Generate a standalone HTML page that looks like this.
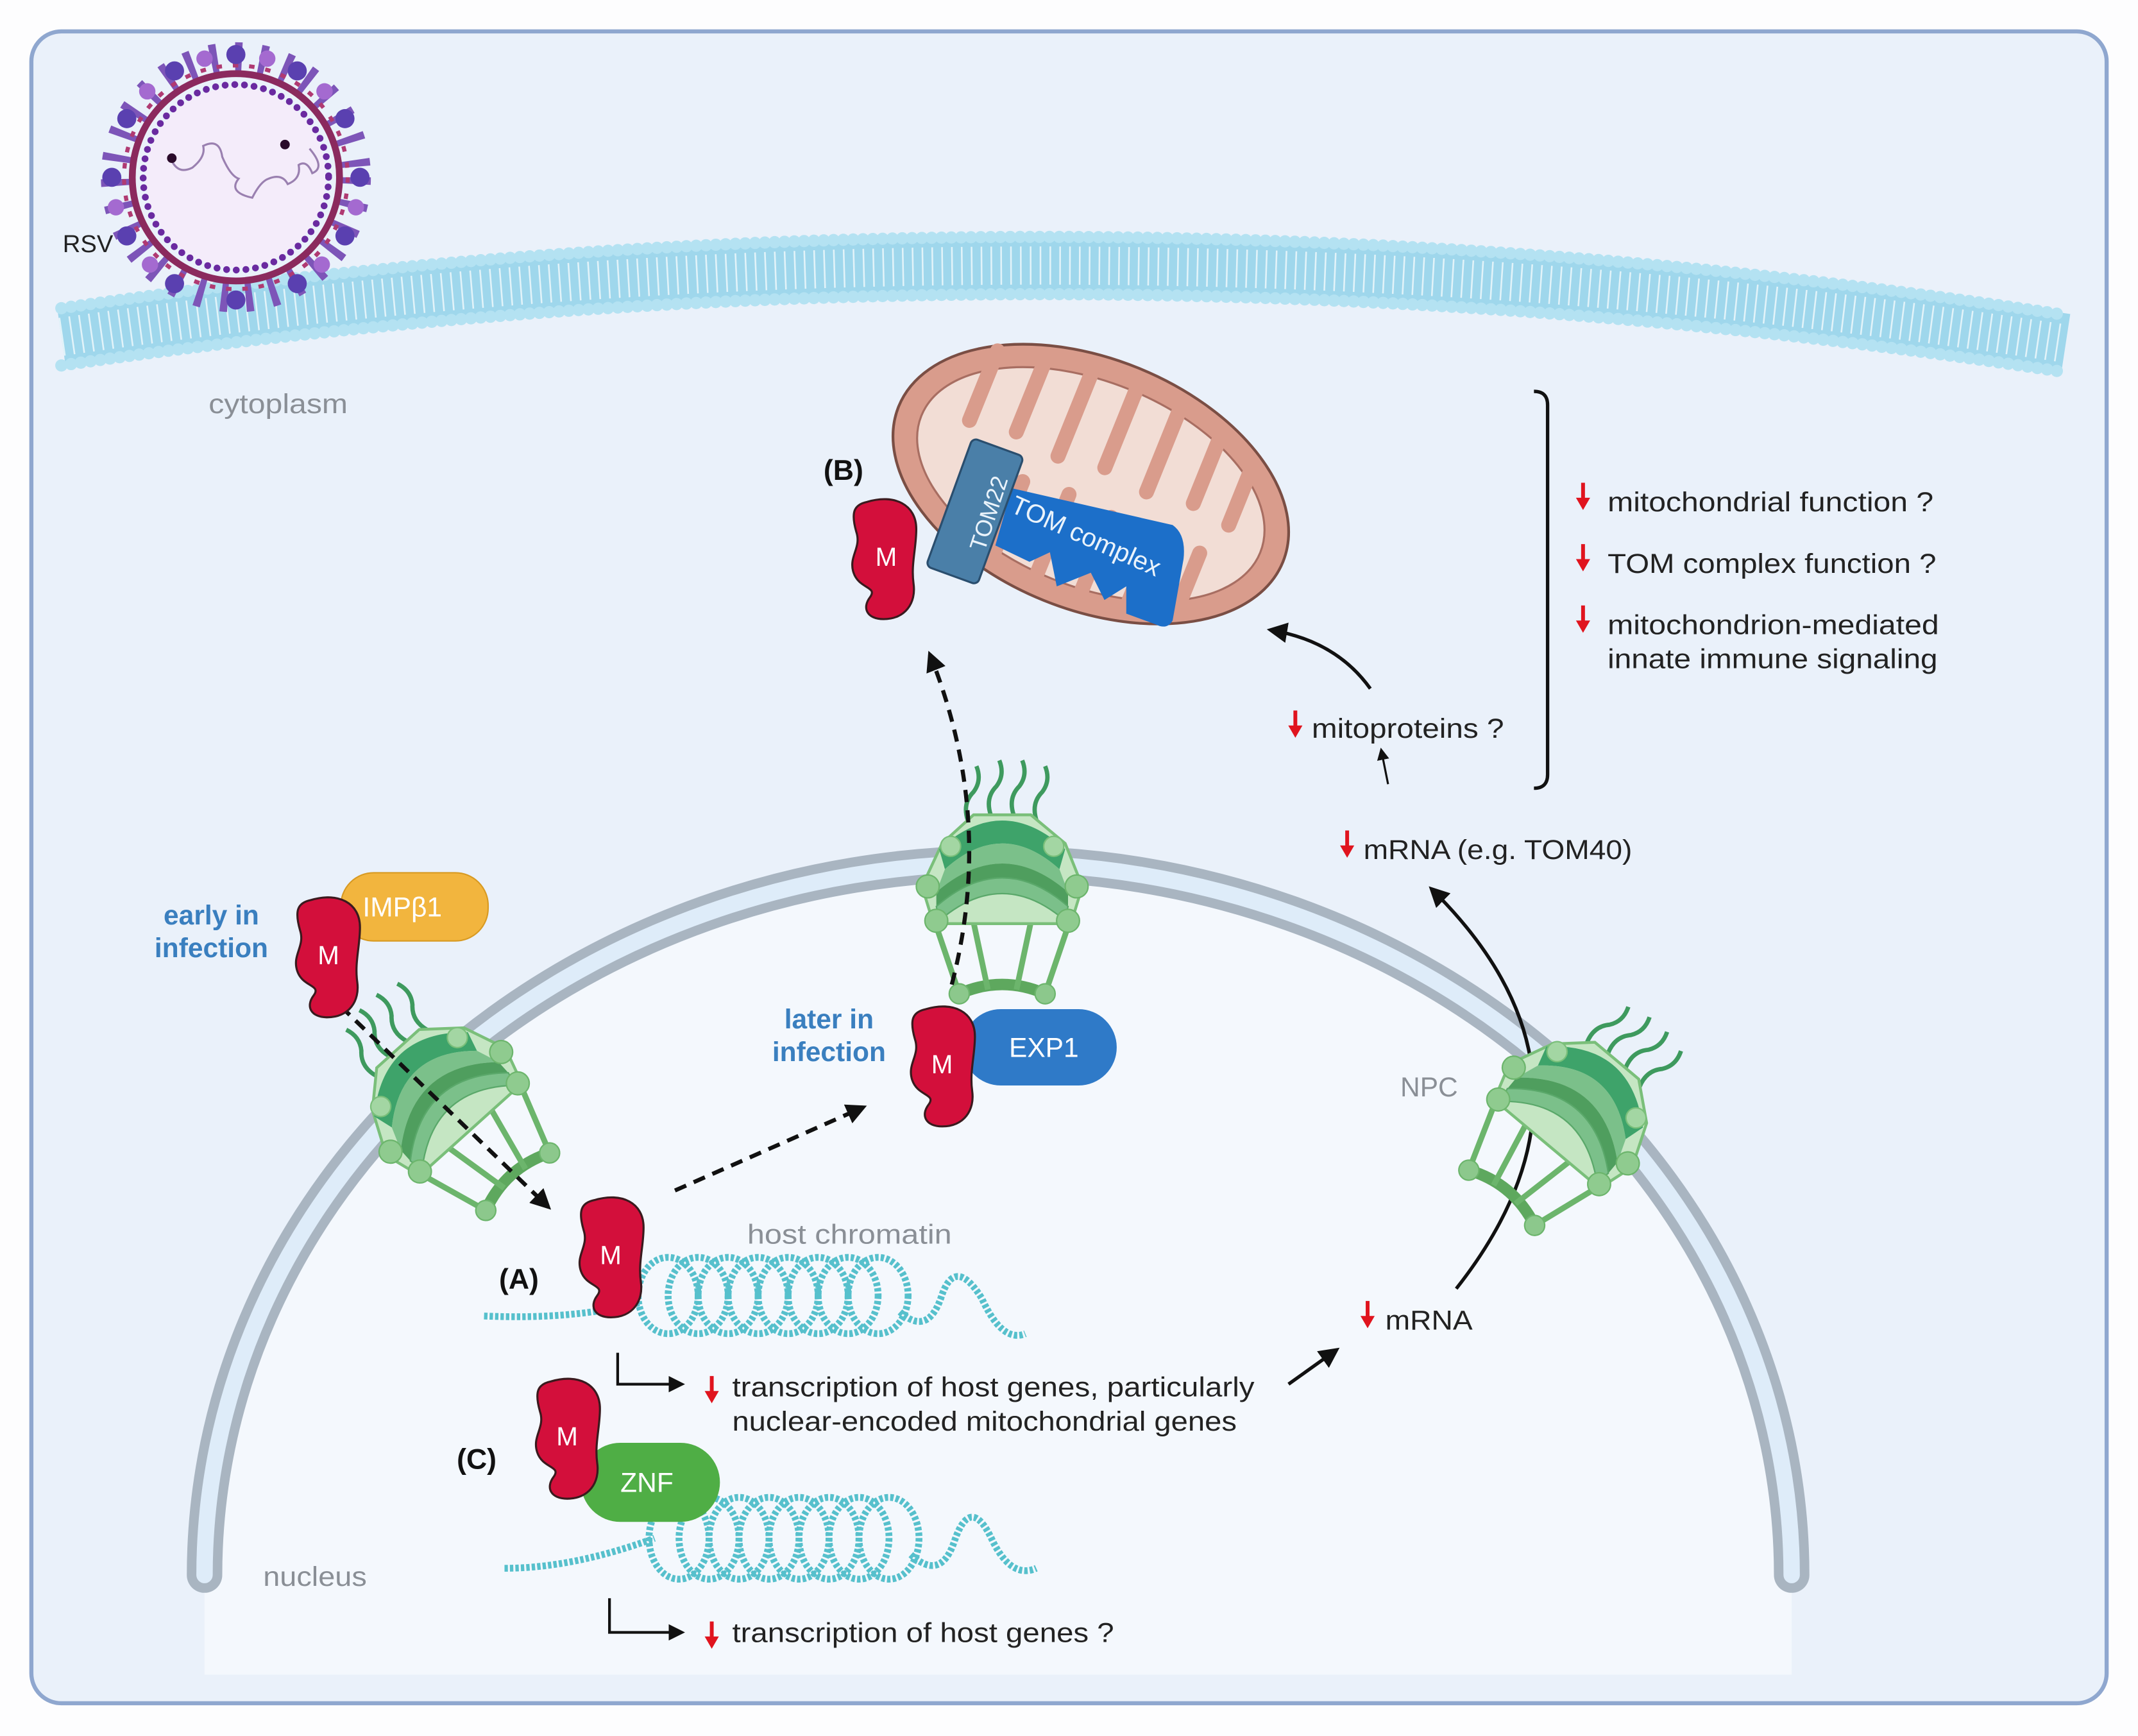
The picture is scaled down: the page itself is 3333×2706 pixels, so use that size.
<!DOCTYPE html>
<html><head><meta charset="utf-8"><style>
html,body{margin:0;padding:0;background:#fff}
svg{display:block}
text{font-family:"Liberation Sans",sans-serif}
</style></head><body>
<svg width="3333" height="2706" viewBox="0 0 1568 1273" preserveAspectRatio="none" xmlns="http://www.w3.org/2000/svg">
<defs>
<marker id="ah" viewBox="0 0 10 10" refX="8" refY="5" markerWidth="5" markerHeight="5" orient="auto"><path d="M0,0 L10,5 L0,10 z" fill="#111"/></marker>
<marker id="ahs" viewBox="0 0 10 10" refX="8" refY="5" markerWidth="6" markerHeight="6" orient="auto"><path d="M0,0 L10,5 L0,10 z" fill="#111"/></marker>
<g id="rdown"><path d="M-1.4,-11 L1.4,-11 L1.4,0 L5.2,0 L0,9 L-5.2,0 L-1.4,0 z" fill="#e0141e"/></g>
<g id="npc">
  <path d="M-30,75 Q0,62 30,75" fill="none" stroke="#5ea85e" stroke-width="8"/>
  <path d="M-48,22 L-30,75 M48,22 L30,75 M-20,25 L-10,72 M20,25 L10,72" stroke="#6cb56c" stroke-width="4"/>
  <circle cx="-30" cy="75" r="7" fill="#8cc88c" stroke="#6cb56c"/><circle cx="30" cy="75" r="7" fill="#8cc88c" stroke="#6cb56c"/>
  <path d="M-24,-46 q-4,-12 4,-20 q6,-8 2,-18 M-8,-50 q-4,-12 4,-20 q6,-8 2,-18 M8,-50 q-4,-12 4,-20 q6,-8 2,-18 M24,-46 q-4,-12 4,-20 q6,-8 2,-18" fill="none" stroke="#3e9a5e" stroke-width="3"/>
  <path d="M-42,-30 L-20,-50 L20,-50 L44,-30 L56,0 L48,26 L-48,26 L-56,0 z" fill="#c5e6c3" stroke="#7abf7a" stroke-width="2"/>
  <path d="M-44,-26 Q0,-66 44,-26 L40,-12 Q0,-48 -40,-12 z" fill="#3ea36a"/>
  <path d="M-40,-12 Q0,-48 40,-12 L46,4 Q0,-36 -46,4 z" fill="#7bc08a"/>
  <path d="M-46,4 Q0,-36 46,4 L46,14 Q0,-26 -46,14 z" fill="#4f9e5e"/>
  <path d="M-46,14 Q0,-26 46,14 L44,24 Q0,-14 -44,24 z" fill="#7bc08a" stroke="#5aa86a"/>
  <circle cx="-52" cy="0" r="8" fill="#8fcb8f" stroke="#6cb56c"/><circle cx="52" cy="0" r="8" fill="#8fcb8f" stroke="#6cb56c"/>
  <circle cx="-46" cy="24" r="8" fill="#8fcb8f" stroke="#6cb56c"/><circle cx="46" cy="24" r="8" fill="#8fcb8f" stroke="#6cb56c"/>
  <circle cx="-36" cy="-28" r="7" fill="#a3d6a3" stroke="#7abf7a"/><circle cx="36" cy="-28" r="7" fill="#a3d6a3" stroke="#7abf7a"/>
</g>
<g id="mprot">
  <path d="M-14,-42 C6,-48 22,-40 22,-22 C22,-8 18,4 20,18 C22,32 14,44 -2,44 C-14,44 -18,36 -12,28 C-6,20 -20,22 -24,10 C-28,-2 -18,-8 -22,-20 C-26,-34 -24,-40 -14,-42 z" fill="#d30f3b" stroke="#3a1a1e" stroke-width="1.5"/>
</g>
</defs>

<rect width="1568" height="1273" fill="#fdfdfe"/>
<rect x="23" y="23" width="1522" height="1226" rx="22" fill="#eaf1fa" stroke="#8fa7cf" stroke-width="3"/>

<!-- plasma membrane -->
<path d="M45,247 Q780,140 1515,252" fill="none" stroke="#9fd7ec" stroke-width="44"/>
<path d="M45,247 Q780,140 1515,252" fill="none" stroke="#ffffff" stroke-width="28" stroke-dasharray="1.2 6" opacity="0.7"/>
<path d="M45,226 Q780,119 1515,231" fill="none" stroke="#b4e2f2" stroke-width="9" stroke-linecap="round" stroke-dasharray="0 7.2"/>
<path d="M45,268 Q780,161 1515,273" fill="none" stroke="#b4e2f2" stroke-width="9" stroke-linecap="round" stroke-dasharray="0 7.2"/>

<!-- virus -->
<g>
  <g fill="none">
    <circle cx="173" cy="130" r="88" stroke="#7d55b8" stroke-width="22" stroke-dasharray="5 13"/>
    <circle cx="173" cy="130" r="76" stroke="#8b2a5e" stroke-width="5"/>
    <circle cx="173" cy="130" r="82" stroke="#b03a72" stroke-width="3" stroke-dasharray="4 8"/>
  </g>
  <g fill="#5a40b0">
    <circle cx="173" cy="40" r="7"/><circle cx="218" cy="52" r="7"/><circle cx="128" cy="52" r="7"/><circle cx="253" cy="87" r="7"/><circle cx="93" cy="87" r="7"/><circle cx="264" cy="130" r="7"/><circle cx="82" cy="130" r="7"/><circle cx="253" cy="173" r="7"/><circle cx="93" cy="173" r="7"/><circle cx="218" cy="208" r="7"/><circle cx="128" cy="208" r="7"/><circle cx="173" cy="220" r="7"/>
    <circle cx="150" cy="43" r="6" fill="#a46ad0"/><circle cx="196" cy="43" r="6" fill="#a46ad0"/><circle cx="238" cy="67" r="6" fill="#a46ad0"/><circle cx="108" cy="67" r="6" fill="#a46ad0"/><circle cx="261" cy="152" r="6" fill="#a46ad0"/><circle cx="85" cy="152" r="6" fill="#a46ad0"/><circle cx="236" cy="194" r="6" fill="#a46ad0"/><circle cx="110" cy="194" r="6" fill="#a46ad0"/>
  </g>
  <circle cx="173" cy="130" r="66" fill="#f4ecfa"/>
  <circle cx="173" cy="130" r="68" fill="none" stroke="#6a2aa0" stroke-width="5" stroke-dasharray="0 7.1" stroke-linecap="round"/>
  <path d="M126,118 q5,10 15,5 q10,-8 8,-16 q12,-6 14,8 q6,14 12,16 q-8,10 10,14 q6,-12 12,-14 q10,-4 14,4 q10,-4 8,-14 q6,-4 10,6 q10,-4 -2,-18" fill="none" stroke="#9a80b0" stroke-width="1.5"/>
  <circle cx="126" cy="116" r="3.5" fill="#2a0a2a"/><circle cx="209" cy="106" r="3.5" fill="#2a0a2a"/>
</g>
<text x="46" y="185" font-size="18" fill="#222">RSV</text>
<text x="153" y="303" font-size="20" fill="#8a8f96" textLength="102" lengthAdjust="spacingAndGlyphs">cytoplasm</text>

<!-- nucleus -->
<path d="M150,1160 A582,522 0 0 1 1314,1160 L1314,1228 L150,1228 z" fill="#f4f8fd"/>
<rect x="160" y="1160" width="1140" height="68" fill="#f4f8fd"/>
<path d="M150,1155 A582,522 0 0 1 1314,1155" fill="none" stroke="#a9b5c1" stroke-width="26" stroke-linecap="round"/>
<path d="M150,1155 A582,522 0 0 1 1314,1155" fill="none" stroke="#deecf9" stroke-width="12" stroke-linecap="round"/>
<text x="193" y="1163" font-size="20" fill="#8a8f96" textLength="76" lengthAdjust="spacingAndGlyphs">nucleus</text>

<!-- mitochondrion -->
<g transform="rotate(22 800 355)">
  <ellipse cx="800" cy="355" rx="152" ry="92" fill="#d99c8c" stroke="#7a4e44" stroke-width="2"/>
  <ellipse cx="800" cy="355" rx="134" ry="75" fill="#f2ddd5" stroke="#a86e62" stroke-width="1.5"/>
  <g stroke="#d99c8c" stroke-width="11" stroke-linecap="round">
    <path d="M700,290 L700,345"/><path d="M735,282 L735,340"/><path d="M770,280 L770,345"/><path d="M805,280 L805,340"/><path d="M840,282 L840,345"/><path d="M875,290 L875,340"/><path d="M905,305 L905,345"/>
    <path d="M718,425 L718,370"/><path d="M753,430 L753,372"/><path d="M788,432 L788,368"/><path d="M823,430 L823,372"/><path d="M858,425 L858,368"/><path d="M893,412 L893,372"/>
  </g>
</g>
<!-- TOM complex -->
<path d="M742,358 L860,385 Q870,392 868,410 L860,455 Q856,462 848,458 L826,450 L826,430 L810,440 L800,420 L775,430 L770,405 L755,412 L730,400 z" fill="#1c6fc9"/>
<g transform="rotate(20 715 375)"><rect x="695" y="325" width="40" height="100" rx="4" fill="#4a7fa8" stroke="#2a4e6e" stroke-width="1.5"/></g>
<text transform="translate(722,405) rotate(-72)" font-size="17" fill="#eaf3fb">TOM22</text>
<text transform="translate(740,375) rotate(24)" font-size="19" fill="#eaf3fb">TOM complex</text>
<use href="#mprot" x="650" y="410"/>
<text x="642" y="415" font-size="19" fill="#fff">M</text>
<text x="604" y="352" font-size="21" font-weight="bold" fill="#111">(B)</text>

<!-- right text -->
<path d="M1125,287 Q1135,287 1135,297 L1135,568 Q1135,578 1125,578" fill="none" stroke="#111" stroke-width="2.5"/>
<use href="#rdown" x="1161" y="365"/><text x="1179" y="375" font-size="20" fill="#222" textLength="239" lengthAdjust="spacingAndGlyphs">mitochondrial function ?</text>
<use href="#rdown" x="1161" y="410"/><text x="1179" y="420" font-size="20" fill="#222" textLength="241" lengthAdjust="spacingAndGlyphs">TOM complex function ?</text>
<use href="#rdown" x="1161" y="455"/><text x="1179" y="465" font-size="20" fill="#222" textLength="243" lengthAdjust="spacingAndGlyphs">mitochondrion-mediated</text>
<text x="1179" y="490" font-size="20" fill="#222" textLength="242" lengthAdjust="spacingAndGlyphs">innate immune signaling</text>
<use href="#rdown" x="950" y="532"/><text x="962" y="541" font-size="20" fill="#222" textLength="141" lengthAdjust="spacingAndGlyphs">mitoproteins ?</text>
<use href="#rdown" x="988" y="620"/><text x="1000" y="630" font-size="20" fill="#222" textLength="197" lengthAdjust="spacingAndGlyphs">mRNA (e.g. TOM40)</text>
<use href="#rdown" x="1003" y="965"/><text x="1016" y="975" font-size="20" fill="#222" textLength="64" lengthAdjust="spacingAndGlyphs">mRNA</text>
<path d="M1005,505 Q980,470 932,462" fill="none" stroke="#111" stroke-width="2.5" marker-end="url(#ahs)"/>
<path d="M1018,575 L1013,550" fill="none" stroke="#111" stroke-width="1.5" marker-end="url(#ahs)"/>
<path d="M1068,945 Q1190,790 1050,652" fill="none" stroke="#111" stroke-width="2.5" marker-end="url(#ahs)"/>
<path d="M945,1015 L980,990" fill="none" stroke="#111" stroke-width="2.5" marker-end="url(#ahs)"/>

<!-- NPCs -->
<use href="#npc" transform="translate(327,808) rotate(-42) scale(1.05)"/>
<use href="#npc" transform="translate(735,650) scale(1.05)"/>
<use href="#npc" transform="translate(1152,818) rotate(40) scale(1.05)"/>
<text x="1027" y="804" font-size="20" fill="#8a8f96">NPC</text>

<!-- dashed arrows -->
<path d="M250,738 L402,885" fill="none" stroke="#111" stroke-width="3" stroke-dasharray="9 6" marker-end="url(#ah)"/>
<path d="M495,873 L633,812" fill="none" stroke="#111" stroke-width="3" stroke-dasharray="9 6" marker-end="url(#ah)"/>
<path d="M698,722 Q730,600 682,480" fill="none" stroke="#111" stroke-width="3" stroke-dasharray="9 6" marker-end="url(#ah)"/>

<!-- early in infection -->
<rect x="250" y="640" width="108" height="50" rx="24" fill="#f2b53e" stroke="#d89a22" stroke-width="1"/>
<text x="266" y="672" font-size="20" fill="#fff">IMPβ1</text>
<use href="#mprot" x="242" y="702"/>
<text x="233" y="707" font-size="19" fill="#fff">M</text>
<text x="155" y="678" font-size="20" font-weight="bold" fill="#3a7fbf" text-anchor="middle">early in</text>
<text x="155" y="702" font-size="20" font-weight="bold" fill="#3a7fbf" text-anchor="middle">infection</text>

<!-- later in infection -->
<rect x="706" y="740" width="113" height="56" rx="28" fill="#2f7ac8"/>
<text x="740" y="775" font-size="20" fill="#fff">EXP1</text>
<use href="#mprot" x="693" y="782"/>
<text x="683" y="787" font-size="19" fill="#fff">M</text>
<text x="608" y="754" font-size="20" font-weight="bold" fill="#3a7fbf" text-anchor="middle">later in</text>
<text x="608" y="778" font-size="20" font-weight="bold" fill="#3a7fbf" text-anchor="middle">infection</text>

<!-- chromatin -->
<g fill="none" stroke="#56c0cc" stroke-width="5" stroke-dasharray="2.5 1.5">
  <path d="M355,965 Q420,968 470,955"/>
  <g><ellipse cx="490" cy="950" rx="22" ry="28"/><ellipse cx="512" cy="950" rx="22" ry="28"/><ellipse cx="534" cy="950" rx="22" ry="28"/><ellipse cx="556" cy="950" rx="22" ry="28"/><ellipse cx="578" cy="950" rx="22" ry="28"/><ellipse cx="600" cy="950" rx="22" ry="28"/><ellipse cx="622" cy="950" rx="22" ry="28"/><ellipse cx="644" cy="950" rx="22" ry="28"/></g>
  <path d="M660,962 Q680,980 690,952 Q700,920 720,952 Q735,985 752,978"/>
  <path d="M370,1150 Q420,1150 480,1128"/>
  <g><ellipse cx="498" cy="1128" rx="22" ry="30"/><ellipse cx="520" cy="1128" rx="22" ry="30"/><ellipse cx="542" cy="1128" rx="22" ry="30"/><ellipse cx="564" cy="1128" rx="22" ry="30"/><ellipse cx="586" cy="1128" rx="22" ry="30"/><ellipse cx="608" cy="1128" rx="22" ry="30"/><ellipse cx="630" cy="1128" rx="22" ry="30"/><ellipse cx="652" cy="1128" rx="22" ry="30"/></g>
  <path d="M668,1140 Q690,1160 700,1130 Q712,1095 728,1130 Q742,1158 760,1150"/>
</g>
<text x="548" y="912" font-size="20" fill="#8a8f96" textLength="150" lengthAdjust="spacingAndGlyphs">host chromatin</text>
<use href="#mprot" x="450" y="922"/>
<text x="440" y="927" font-size="19" fill="#fff">M</text>
<text x="366" y="945" font-size="21" font-weight="bold" fill="#111">(A)</text>
<path d="M453,992 L453,1015 L500,1015" fill="none" stroke="#111" stroke-width="2" marker-end="url(#ahs)"/>
<use href="#rdown" x="522" y="1020"/>
<text x="537" y="1024" font-size="20" fill="#222" textLength="383" lengthAdjust="spacingAndGlyphs">transcription of host genes, particularly</text>
<text x="537" y="1049" font-size="20" fill="#222" textLength="370" lengthAdjust="spacingAndGlyphs">nuclear-encoded mitochondrial genes</text>

<!-- C -->
<rect x="426" y="1058" width="102" height="58" rx="29" fill="#4fae45"/>
<text x="455" y="1094" font-size="20" fill="#fff">ZNF</text>
<use href="#mprot" x="418" y="1055"/>
<text x="408" y="1060" font-size="19" fill="#fff">M</text>
<text x="335" y="1077" font-size="21" font-weight="bold" fill="#111">(C)</text>
<path d="M447,1172 L447,1197 L500,1197" fill="none" stroke="#111" stroke-width="2" marker-end="url(#ahs)"/>
<use href="#rdown" x="522" y="1200"/>
<text x="537" y="1204" font-size="20" fill="#222" textLength="280" lengthAdjust="spacingAndGlyphs">transcription of host genes ?</text>
</svg>
</body></html>
